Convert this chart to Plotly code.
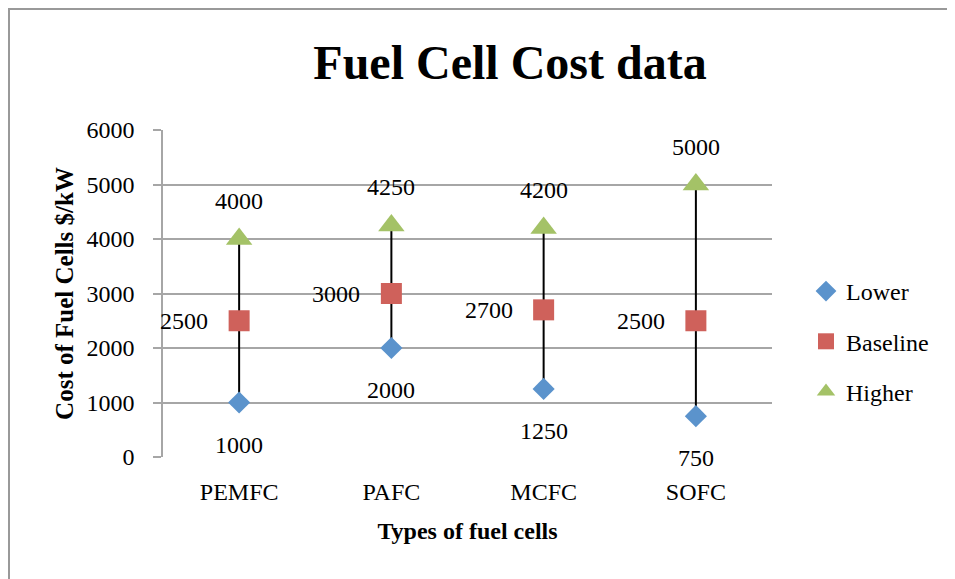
import plotly.graph_objects as go

categories = ["PEMFC", "PAFC", "MCFC", "SOFC"]
lower = [1000, 2000, 1250, 750]
baseline = [2500, 3000, 2700, 2500]
higher = [4000, 4250, 4200, 5000]
y_ticks = [0, 1000, 2000, 3000, 4000, 5000, 6000]

# page body has an 8px margin, so the figure is drawn 8px in from the window edge
W, H = 947, 571
ML, MR, MT, MB = 155, 183, 122, 122
PW, PH = W - ML - MR, H - MT - MB

FONT = "Liberation Serif, Times New Roman, serif"
BLUE, RED, GREEN = "#5b93cc", "#cf615b", "#a4c267"

def px_x(p):
    return (p - ML) / PW

def px_y(p):
    return (H - MB - p) / PH

fig = go.Figure()

# high-low lines
lx, ly = [], []
for c, lo, hi in zip(categories, lower, higher):
    lx += [c, c, None]
    ly += [lo, hi, None]
fig.add_trace(go.Scatter(x=lx, y=ly, mode="lines", line=dict(color="black", width=2),
                         showlegend=False, hoverinfo="skip"))

fig.add_trace(go.Scatter(x=categories, y=lower, mode="markers", name="Lower",
                         marker=dict(symbol="diamond", size=17, color=BLUE), legendgroup="a"))
fig.add_trace(go.Scatter(x=categories, y=baseline, mode="markers", name="Baseline",
                         marker=dict(symbol="square", size=21, color=RED), legendgroup="b"))
fig.add_trace(go.Scatter(x=categories, y=higher, mode="markers", name="Higher",
                         marker=dict(symbol="triangle-up", size=23, color=GREEN), legendgroup="c"))

annotations = []
lab_font = dict(family=FONT, size=24, color="black")
for c, v in zip(categories, lower):
    annotations.append(dict(x=c, y=v, text=str(v), showarrow=False, yshift=-42, font=lab_font))
for c, v in zip(categories, baseline):
    annotations.append(dict(x=c, y=v, text=str(v), showarrow=False, xshift=-55, font=lab_font))
for c, v in zip(categories, higher):
    annotations.append(dict(x=c, y=v, text=str(v), showarrow=False, yshift=38, font=lab_font))

fig.update_layout(
    width=W, height=H,
    margin=dict(l=ML, r=MR, t=MT, b=MB, autoexpand=False),
    paper_bgcolor="white", plot_bgcolor="white",
    font=dict(family=FONT, size=24, color="black"),
    title=dict(text="<b>Fuel Cell Cost data</b>", x=502 / W, xanchor="center",
               y=1 - 54 / H, yanchor="middle", font=dict(family=FONT, size=48, color="black")),
    showlegend=True,
    legend=dict(x=px_x(798), y=px_y(261), xanchor="left", yanchor="top",
                font=dict(family=FONT, size=24, color="black"),
                tracegroupgap=16, traceorder="grouped", itemwidth=30,
                bgcolor="rgba(0,0,0,0)"),
    annotations=annotations,
    shapes=[dict(type="rect", xref="paper", yref="paper",
                 x0=px_x(1), y0=px_y(600), x1=px_x(990), y1=px_y(1),
                 line=dict(color="#999999", width=2), fillcolor="rgba(0,0,0,0)", layer="below")],
)

fig.update_xaxes(
    type="category", categoryorder="array", categoryarray=categories,
    range=[-0.5, 3.5], showgrid=False, zeroline=False, automargin=False,
    showline=False, ticks="", ticklabelstandoff=18,
    tickfont=dict(family=FONT, size=24, color="black"),
    title=dict(text="<b>Types of fuel cells</b>", standoff=18,
               font=dict(family=FONT, size=24, color="black")),
)
fig.update_yaxes(
    range=[0, 6000], tickvals=y_ticks, ticktext=[str(t) for t in y_ticks],
    showgrid=True, gridcolor="#a6a6a6", gridwidth=1.5, automargin=False,
    zeroline=False, showline=True, linecolor="#a6a6a6", linewidth=1.5,
    ticks="outside", ticklen=8, tickcolor="#a6a6a6", tickwidth=1.5,
    ticklabelstandoff=14,
    tickfont=dict(family=FONT, size=24, color="black"),
    title=dict(text="<b>Cost of Fuel Cells $/kW</b>", standoff=6,
               font=dict(family=FONT, size=25, color="black")),
)

fig.write_html("out.html")
